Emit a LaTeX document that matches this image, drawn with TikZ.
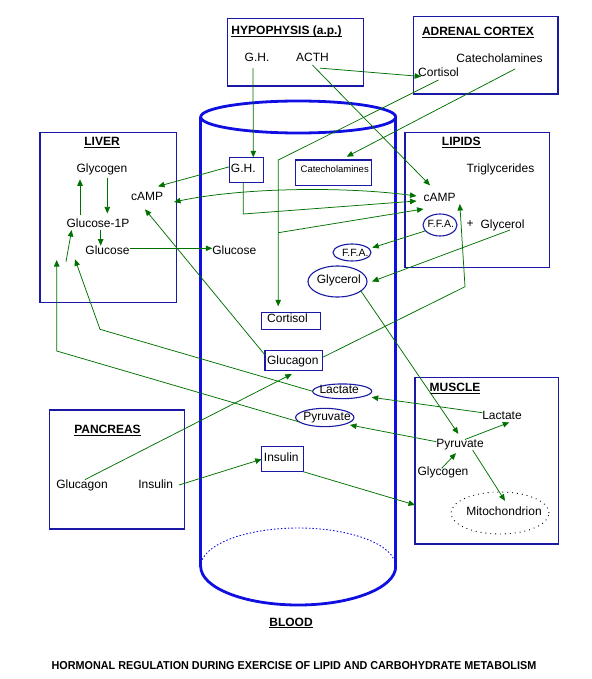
\documentclass[tikz,border=0pt]{standalone}
\usepackage{fontspec}
\setmainfont{Liberation Sans}
\usetikzlibrary{arrows.meta,shapes.geometric}
\definecolor{navy}{RGB}{25,25,165}
\definecolor{cylblue}{RGB}{15,15,225}
\definecolor{grn}{RGB}{0,112,0}
\newcommand{\myul}[1]{\setbox0\hbox{#1}\rlap{\rule[-2.3pt]{\wd0}{1.1pt}}#1}
\begin{document}
\begin{tikzpicture}[x=1pt,y=-1pt,
  >={Triangle[length=6.5pt,width=5.5pt]},
  frame/.style={draw=navy,line width=1.1pt,rectangle,inner sep=0pt,outer sep=0pt,anchor=north west},
  oval/.style={draw=navy,line width=1.1pt,ellipse,inner sep=0pt,outer sep=0pt},
  txt/.style={font=\fontsize{12}{14}\selectfont,inner sep=0pt,outer sep=0pt,anchor=base},
  smalltxt/.style={font=\fontsize{10.5}{12}\selectfont,inner sep=0pt,outer sep=0pt,anchor=base},
  ttl/.style={font=\fontsize{12}{14}\selectfont\bfseries,inner sep=0pt,outer sep=0pt,anchor=base},
  arr/.style={draw=grn,line width=0.75pt,->},
  cyl/.style={draw=cylblue,line width=2.8pt},
]
\useasboundingbox (0,0) rectangle (591,679);

% ---------- blood cylinder ----------
\draw[cyl] (200.7,117) -- (200.7,566.5);
\draw[cyl] (395.7,117) -- (395.7,566.5);
\draw[cyl] (298.2,117) ellipse [x radius=97.5pt, y radius=16pt];
\draw[cyl] (200.7,566.5) arc[start angle=180,end angle=360,x radius=97.5pt,y radius=38.5pt];
\draw[draw=cylblue,line width=0.9pt,dash pattern=on 1.5pt off 2pt] (200.7,566.5) arc[start angle=180,end angle=0,x radius=97.5pt,y radius=38.5pt];

% ---------- organ boxes ----------
\node[frame,minimum width=136pt,minimum height=67.7pt] (hyp) at (227.3,18.3) {};
\node[frame,minimum width=144.7pt,minimum height=77.3pt] (adr) at (413.3,16.7) {};
\node[frame,minimum width=136.7pt,minimum height=170.4pt] (liver) at (40,132.3) {};
\node[frame,minimum width=144.3pt,minimum height=135.4pt] (lipids) at (405,132.3) {};
\node[frame,minimum width=143.3pt,minimum height=166.7pt] (muscle) at (415,377.3) {};
\node[frame,minimum width=135pt,minimum height=119pt] (panc) at (49.3,410) {};

% ---------- hypophysis ----------
\node[ttl] (hypt) at (286.5,35) {\myul{HYPOPHYSIS (a.p.)}};
\node[txt] (hgh) at (257,62) {G.H.};
\node[txt] (acth) at (312.5,62) {ACTH};

% ---------- adrenal cortex ----------
\node[ttl] (adrt) at (478,35.5) {\myul{ADRENAL CORTEX}};
\node[txt] (acat) at (499.5,63) {Catecholamines};
\node[txt] (acort) at (438.5,76.5) {Cortisol};

% ---------- liver ----------
\node[ttl] (livt) at (102,145.5) {\myul{LIVER}};
\node[txt] (lglyc) at (102,172.5) {Glycogen};
\node[txt] (lcamp) at (147,200) {cAMP};
\node[txt] (lg1p) at (98,227.3) {Glucose-1P};
\node[txt] (lglu) at (107.5,254.3) {Glucose};

% ---------- lipids ----------
\node[ttl] (lipt) at (461.3,145.7) {\myul{LIPIDS}};
\node[txt] (ptri) at (500.5,172.7) {Triglycerides};
\node[txt] (pcamp) at (439.5,201) {cAMP};
\node[oval,minimum width=34pt,minimum height=22pt] (pffa) at (440,225) {};
\node[smalltxt] (pffat) at (440.8,227.5) {F.F.A.};
\node[txt] (plus) at (470,227) {+};
\node[txt] (pgly) at (502.5,228) {Glycerol};

% ---------- muscle ----------
\node[ttl] (must) at (455,391.7) {\myul{MUSCLE}};
\node[txt] (mlac) at (502,419.3) {Lactate};
\node[txt] (mpyr) at (460,447.7) {Pyruvate};
\node[txt] (mglyc) at (443,475) {Glycogen};
\node[ellipse,draw=black,line width=0.9pt,dash pattern=on 0.9pt off 4pt,inner sep=0pt,minimum width=98pt,minimum height=42pt] (mito) at (500,513) {};
\node[txt] (mitot) at (504,515) {Mitochondrion};

% ---------- pancreas ----------
\node[ttl] (pant) at (107.5,433.3) {\myul{PANCREAS}};
\node[txt] (pgluc) at (82,488.3) {Glucagon};
\node[txt] (pins) at (155.7,488.3) {Insulin};

% ---------- blood contents ----------
\node[frame,minimum width=34pt,minimum height=25pt] (bgh) at (229.3,157.3) {};
\node[txt] (bght) at (243.3,172.7) {G.H.};
\node[frame,minimum width=76pt,minimum height=25.7pt] (bcat) at (295.7,160) {};
\node[font=\fontsize{9.5}{11}\selectfont,inner sep=0pt,anchor=base] (bcatt) at (334.7,172.7) {Catecholamines};
\node[txt] (bglu) at (234.3,254.3) {Glucose};
\node[oval,minimum width=38pt,minimum height=17pt] (bffa) at (352,252.5) {};
\node[smalltxt] (bffat) at (355.3,256) {F.F.A.};
\node[oval,minimum width=59pt,minimum height=31pt] (bgly) at (337.5,281.5) {};
\node[txt] (bglyt) at (338.8,283.5) {Glycerol};
\node[frame,minimum width=59pt,minimum height=17pt] (bcort) at (261.7,312.3) {};
\node[txt] (bcortt) at (287.5,322.7) {Cortisol};
\node[frame,minimum width=57.7pt,minimum height=20pt] (bgluc) at (265,350.7) {};
\node[txt] (bgluct) at (292.8,364.3) {Glucagon};
\node[oval,minimum width=59pt,minimum height=14.7pt] (blac) at (342.2,391.3) {};
\node[txt] (blact) at (339.2,393.3) {Lactate};
\node[oval,minimum width=58.3pt,minimum height=18.3pt] (bpyr) at (324.8,417.5) {};
\node[txt] (bpyrt) at (327,420) {Pyruvate};
\node[frame,minimum width=41.6pt,minimum height=25pt] (bins) at (261.7,446.7) {};
\node[txt] (binst) at (281.3,461.7) {Insulin};

\node[ttl] (blood) at (291,626) {\myul{BLOOD}};
\node[font=\fontsize{11.5}{13}\selectfont\bfseries,inner sep=0pt,anchor=base] (cap) at (294,669) {\scalebox{0.94}[1]{HORMONAL REGULATION DURING EXERCISE OF LIPID AND CARBOHYDRATE METABOLISM}};

% ---------- helper coordinates ----------
\coordinate (cortbend) at (278.3,160);
\coordinate (cortbr) at (278.3,232.7);
\coordinate (g1pfree) at (66,261.7);
\coordinate (lacbend) at (100,329.3);
\coordinate (lacend) at (75,259.3);
\coordinate (pyrbend) at (56.7,351);
\coordinate (pyrend) at (56.7,260);
\coordinate (glucbend) at (465,286.7);

% ---------- connectors ----------
\draw[arr] ([xshift=-4pt,yshift=-6pt]hgh.south) -- ([xshift=7pt]bgh.north);
\draw[arr] ([xshift=7.5pt,yshift=-6pt]acth.south) -- ([xshift=3pt]acort.base west);
\draw[arr] ([yshift=-3pt]acth.south) -- ([xshift=-9.5pt,yshift=7.4pt]pcamp.north);
\draw[arr] ([yshift=-3.5pt]acort.base) -- (cortbend) -- ([xshift=-13pt,yshift=6pt]bcort.north);
\draw[arr] (cortbr) -- ([yshift=-8pt]pcamp.base west);
\draw[arr] ([xshift=15.5pt,yshift=-6pt]acat.base) -- ([xshift=13pt,yshift=3.3pt]bcat.north);
\draw[arr] ([yshift=3pt]bgh.west) -- ([xshift=11pt,yshift=5.4pt]lcamp.north);
\draw[draw=grn,line width=0.75pt,<->] ([xshift=11pt,yshift=-2pt]lcamp.base east) .. controls (240,188) and (340,186) .. ([xshift=-7pt,yshift=5pt]pcamp.base west);
\draw[arr] ([xshift=-3pt]bgh.south) -- ++(0,31.7) -- ([xshift=-7pt]pcamp.base west);
\draw[arr] ([xshift=5.3pt,yshift=-5.8pt]lglyc.base) -- ([xshift=9.3pt,yshift=5.2pt]lg1p.north);
\draw[arr] ([xshift=-18pt,yshift=3.5pt]lg1p.north) -- ([xshift=-22pt,yshift=-6.8pt]lglyc.base);
\draw[arr] ([xshift=2.7pt,yshift=-2.7pt]lg1p.base) -- ([xshift=-6.8pt]lglu.north);
\draw[arr] ([yshift=6pt]lglu.base east) -- ([yshift=6pt]bglu.base west);
\draw[arr] (g1pfree) -- ([xshift=5pt,yshift=-2.7pt]lg1p.base west);
\draw[arr] (blac.west) -- (lacbend) -- (lacend);
\draw[arr] (bpyr.190) -- (pyrbend) -- (pyrend);
\draw[arr] ([yshift=6.6pt]mlac.base west) -- ([yshift=-6pt]blac.east);
\draw[arr] ([yshift=6pt]mpyr.base west) -- ([xshift=-4pt,yshift=-7.5pt]bpyr.east);
\draw[arr] (bgly.-22) -- ([xshift=-1.7pt,yshift=5.6pt]mpyr.north);
\draw[arr] ([xshift=-1.3pt,yshift=-2pt]mglyc.north) -- ([xshift=-4pt,yshift=-3pt]mpyr.south);
\draw[arr] ([xshift=5pt]mpyr.north) -- ([xshift=7.3pt,yshift=-3pt]mlac.south);
\draw[arr] ([xshift=12.7pt]mpyr.south) -- ([xshift=1pt,yshift=5.5pt]mitot.north);
\draw[arr] (bins.south east) -- ([yshift=-44.3pt]muscle.west);
\draw[arr] ([xshift=6pt,yshift=3.3pt]pins.base east) -- (bins.west);
\draw[arr] ([xshift=3pt]pgluc.north) -- ([xshift=-2pt,yshift=-3.3pt]bgluc.south);
\draw[arr] ([yshift=-4.3pt]bgluc.north west) -- ([xshift=-2pt,yshift=-9.3pt]lcamp.base);
\draw[arr] ([yshift=-6.6pt]bgluc.north east) -- (glucbend) -- ([xshift=4.3pt,yshift=-3pt]pcamp.base east);
\draw[arr] (pffa.202) -- ([xshift=1.3pt,yshift=4.8pt]bffa.east);
\draw[arr] ([xshift=7.5pt,yshift=-2pt]pgly.base) -- ([xshift=5pt]bgly.east);
\end{tikzpicture}
\end{document}
